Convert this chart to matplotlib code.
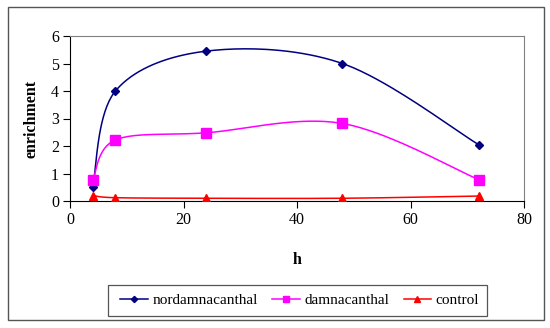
import numpy as np
import matplotlib
matplotlib.use("Agg")
import matplotlib.pyplot as plt
from matplotlib.patches import Rectangle

hours = [4, 8, 24, 48, 72]
nordamnacanthal = [0.5, 4.0, 5.45, 5.0, 2.05]
damnacanthal = [0.75, 2.22, 2.48, 2.82, 0.78]
control = [0.2, 0.12, 0.1, 0.1, 0.18]
series_names = ["nordamnacanthal", "damnacanthal", "control"]
xticks = [0, 20, 40, 60, 80]
yticks = [0, 1, 2, 3, 4, 5, 6]

plt.rcParams['font.family'] = ['Liberation Serif', 'DejaVu Serif']


def smooth(xs, ys, n=40):
    # Excel-like Bezier smoothing (Catmull-Rom control points)
    P = np.column_stack([xs, ys]).astype(float)
    out = [P[0]]
    for i in range(len(P) - 1):
        p0 = P[i - 1] if i > 0 else P[i]
        p1 = P[i]
        p2 = P[i + 1]
        p3 = P[i + 2] if i + 2 < len(P) else P[i + 1]
        c1 = p1 + (p2 - p0) / 6.0
        c2 = p2 - (p3 - p1) / 6.0
        t = np.linspace(0, 1, n)[1:, None]
        seg = ((1 - t) ** 3) * p1 + 3 * ((1 - t) ** 2) * t * c1 + 3 * (1 - t) * t ** 2 * c2 + t ** 3 * p2
        out.extend(seg)
    out = np.array(out)
    return out[:, 0], out[:, 1]


fig = plt.figure(figsize=(5.5, 3.28), dpi=100)
W, H = 550, 328
fig.patches.append(Rectangle((8 / W, 1 - 320 / H), (544 - 8) / W, (320 - 7) / H,
                             transform=fig.transFigure, fill=False, edgecolor='#555555', lw=1.0))
fig.patches.append(Rectangle((108 / W, 1 - 316 / H), (487 - 108) / W, (316 - 285) / H,
                             transform=fig.transFigure, fill=False, edgecolor='#555555', lw=0.9))

ax = fig.add_axes([70 / W, 1 - 201 / H, (524 - 70) / W, (201 - 36) / H])

styles = [
    (nordamnacanthal, '#000080', 'D', 4.5),
    (damnacanthal, '#FF00FF', 's', 6.5),
    (control, '#FF0000', '^', 6),
]
handles = []
for (vals, col, mk, ms), name in zip(styles, series_names):
    sx, sy = smooth(hours, vals)
    ax.plot(sx, sy, color=col, lw=1.1, zorder=2)
    ax.plot(hours, vals, ls='none', marker=mk, color=col, ms=ms, zorder=3)
    h, = ax.plot([], [], color=col, lw=1.1, marker=mk, ms=ms * 0.7, label=name)
    handles.append(h)

ax.set_xlim(0, 80)
ax.set_ylim(0, 6)
ax.set_xticks(xticks)
ax.set_yticks(yticks)
for s in ax.spines.values():
    s.set_color('#808080')
ax.spines['left'].set_color('#000000')
ax.spines['bottom'].set_color('#000000')
ax.tick_params(direction='out', length=5, width=0.8, labelsize=11.5, colors='#000000', pad=3)
ax.set_xlabel('h', fontsize=11.5, fontweight='bold', labelpad=17)
ax.set_ylabel('enrichment', fontsize=11.5, fontweight='bold', labelpad=8)

leg = fig.legend(handles=handles, loc='center', bbox_to_anchor=((108 + 487) / 2 / W + 0.004, 1 - 300.5 / H),
                 ncol=3, frameon=False, fontsize=11,
                 handlelength=1.8, handletextpad=0.3, columnspacing=0.95, borderpad=0.2)

fig.savefig('out.png', dpi=100)
